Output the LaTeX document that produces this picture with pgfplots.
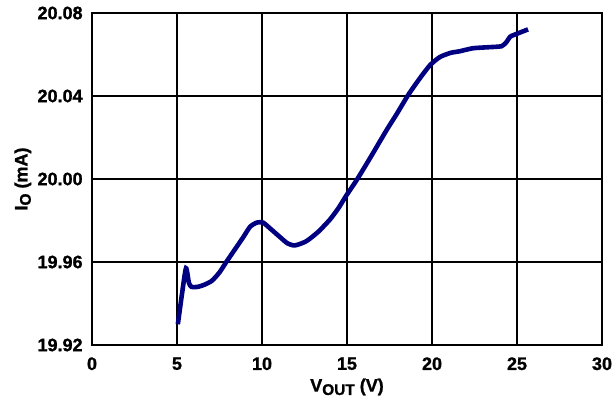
\documentclass[border=0pt]{standalone}
\usepackage{fontspec}
\setmainfont{Liberation Sans Bold}[FakeBold=1.2]
\usepackage{pgfplots}
\pgfplotsset{compat=1.18}
\definecolor{curve}{RGB}{0,0,128}
\begin{document}
\fontsize{9}{10}\selectfont
\begin{tikzpicture}
\begin{axis}[
  name=a,
  scale only axis,
  width=255pt, height=166pt,
  xmin=0, xmax=30, ymin=19.92, ymax=20.08,
  xtick={0,5,...,30},
  ytick={19.92,19.96,20.00,20.04,20.08},
  /pgf/number format/assume math mode=true,
  yticklabel style={/pgf/number format/fixed,/pgf/number format/fixed zerofill,/pgf/number format/precision=2},
  scaled y ticks=false,
  tick label style={font=\fontsize{9}{10}\selectfont},
  label style={font=\fontsize{9}{10}\selectfont},
  major tick length=0pt,
  grid=major,
  major grid style={black, line width=0.7pt},
  axis line style={black, line width=0.8pt},
  xticklabel style={yshift=-3pt},
  yticklabel style={xshift=-1.5pt},
  xlabel={V\raisebox{-0.35ex}{\fontsize{7.7}{8}\selectfont OUT} (V)},
  ylabel={I\raisebox{-0.35ex}{\fontsize{7.7}{8}\selectfont O} (mA)},
  xlabel style={yshift=2pt},
  ylabel style={yshift=-3pt},
]
\addplot[curve, line width=2.3pt, smooth, tension=0.4] coordinates {
(5.05,19.930) (5.30,19.945) (5.53,19.957) (5.70,19.950) (5.85,19.948)
(6.2,19.948) (6.6,19.949) (7.06,19.951) (7.5,19.955) (7.9,19.960)
(8.4,19.966) (8.9,19.972) (9.3,19.977) (9.7,19.979) (10.06,19.979)
(10.5,19.976) (11.06,19.972) (11.5,19.969) (11.94,19.968) (12.6,19.970)
(13.3,19.9745) (14.0,19.9805) (14.5,19.986) (14.98,19.9923) (15.57,19.9995) (16.35,20.010)
(17.33,20.0236) (17.9,20.031) (18.6,20.0405) (19.3,20.0487) (19.9,20.055)
(20.47,20.0588) (21.1,20.0608) (21.6,20.0615) (22.4,20.063) (23.3,20.0635)
(24.1,20.064) (24.4,20.0662) (24.6,20.0686) (25.0,20.070) (25.65,20.0721)
};
\end{axis}
\pgfresetboundingbox
\path[use as bounding box] ([shift={(-46pt,-30.5pt)}]a.south west) rectangle ([shift={(5.5pt,6.5pt)}]a.north east);
\end{tikzpicture}
\end{document}
